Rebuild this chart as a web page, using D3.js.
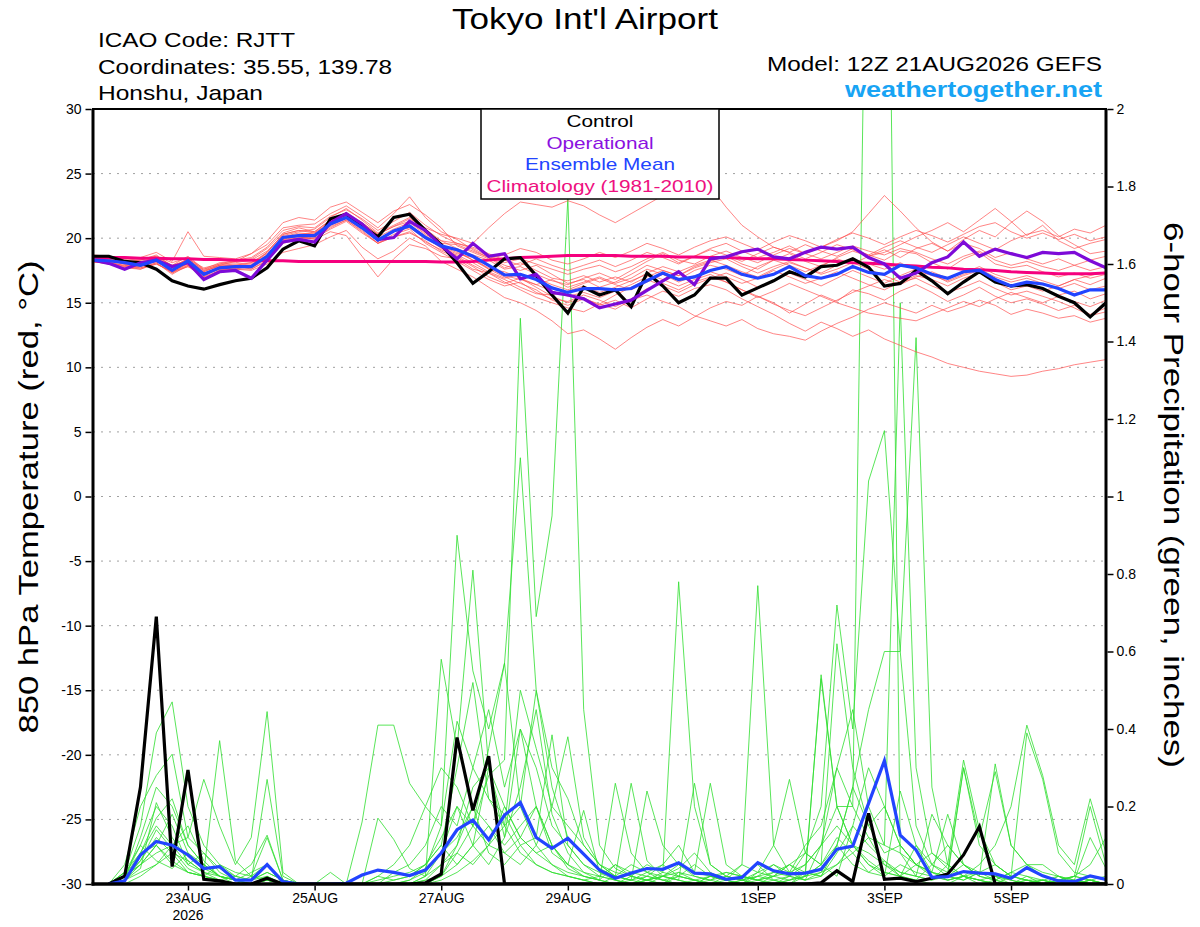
<!DOCTYPE html>
<html lang="en">
<head>
<meta charset="UTF-8">
<title>Tokyo Int'l Airport - GEFS 850 hPa Temperature and Precipitation</title>
<script src="https://d3js.org/d3.v7.min.js"></script>
<style>
  body { margin: 0; background: white; }
  svg { display: block; background: white; font-family: "Liberation Sans", Arial, Helvetica, sans-serif; }
</style>
</head>
<body>
<svg width="1200" height="927" id="chart"></svg>
<script>
// ---- run / axis data ----
const runStart = Date.UTC(2026, 7, 21, 12);   // 12Z 21AUG2026
const runEnd = Date.UTC(2026, 8, 6, 12);
const stepHours = 6;
const tempTicks = [-30, -25, -20, -15, -10, -5, 0, 5, 10, 15, 20, 25, 30];
const tempGrid = [-25, -20, -15, -10, -5, 0, 5, 10, 15, 20, 25];
const precipTicks = [0, 0.2, 0.4, 0.6, 0.8, 1, 1.2, 1.4, 1.6, 1.8, 2];
const dateTicks = [Date.UTC(2026, 7, 23), Date.UTC(2026, 7, 25), Date.UTC(2026, 7, 27), Date.UTC(2026, 7, 29),
                   Date.UTC(2026, 8, 1), Date.UTC(2026, 8, 3), Date.UTC(2026, 8, 5)];
const dateTickLabels = ["23AUG", "25AUG", "27AUG", "29AUG", "1SEP", "3SEP", "5SEP"];

// ---- 850 hPa temperature (deg C), every 6 h from 12Z 21AUG ----
const tempControl = [18.6,18.6,18.2,18.1,17.6,16.7,16.3,16.05,16.4,16.7,
  16.9,17.7,19.15,19.8,19.4,21.5,21.85,20.95,20.1,21.6,
  21.85,20.6,19.5,18.1,16.5,17.4,18.4,18.5,17.1,15.6,
  14.2,16.2,15.6,16.0,14.7,17.3,16.3,15.0,15.6,16.9,
  16.9,15.6,16.15,16.7,17.4,17.0,17.8,17.9,18.4,17.75,
  16.3,16.5,17.5,16.7,15.7,16.6,17.4,16.6,16.3,16.4,
  16.1,15.5,15.0,13.9,15.0];
const tempOperational = [18.3,18.05,17.6,18.1,18.3,17.8,18.1,16.8,17.4,17.5,
  16.9,18.3,19.7,19.9,19.7,21.2,21.9,21.1,19.9,20.05,
  21.3,20.6,19.4,18.4,19.6,18.6,18.8,16.85,17.2,15.8,
  15.6,15.3,14.6,14.9,15.2,15.95,16.7,17.4,16.4,18.4,
  18.55,18.95,19.15,18.55,18.4,18.9,19.3,19.15,19.3,18.5,
  18.0,16.9,17.3,18.1,18.55,19.7,18.6,19.15,18.8,18.5,
  18.9,18.8,18.9,18.25,17.7];
const tempMean = [18.3,18.25,18.1,17.9,18.3,17.5,18.25,17.2,17.7,17.8,
  17.8,18.6,20.05,20.2,20.2,21.1,21.6,20.8,19.85,20.55,
  20.95,20.05,19.4,19.1,18.6,17.9,17.15,17.2,16.8,16.15,
  15.8,16.1,16.1,16.0,16.1,16.7,17.3,16.8,17.0,17.5,
  17.8,17.2,16.9,17.2,17.8,17.1,16.9,17.2,17.8,17.35,
  17.2,17.9,17.7,17.2,16.9,17.4,17.5,16.8,16.3,16.6,
  16.45,16.1,15.6,16.0,16.0];
const tempClimatology = [18.5,18.5,18.5,18.45,18.45,18.4,18.4,18.35,18.35,18.3,
  18.3,18.25,18.25,18.2,18.2,18.2,18.2,18.2,18.2,18.2,
  18.2,18.2,18.15,18.15,18.2,18.3,18.4,18.5,18.55,18.6,
  18.65,18.65,18.65,18.65,18.6,18.6,18.6,18.55,18.55,18.5,
  18.5,18.45,18.4,18.4,18.35,18.3,18.25,18.2,18.1,18.05,
  18.0,17.9,17.85,17.75,17.7,17.6,17.55,17.5,17.4,17.35,
  17.3,17.25,17.25,17.25,17.3];

const tempMember01 = [18.4,18.3,18.0,18.2,18.5,17.9,18.6,17.6,17.9,18.2, 18.4,19.2,20.4,20.8,20.5,21.4,22.0,21.2,20.3,20.9, 21.5,20.8,20.3,20.0,19.6,20.8,21.9,22.8,22.6,22.4, 22.9,22.5,21.8,21.2,21.9,22.6,23.3,23.9,24.4,24.0, 22.4,21.0,20.1,19.3,18.9,19.5,19.0,18.6,19.2,18.7, 18.3,19.0,18.8,18.1,17.6,18.4,18.9,18.0,17.7,17.9, 17.4,17.0,17.3,16.9,17.2];
const tempMember02 = [18.2,18.0,17.9,17.7,18.1,17.2,17.9,16.9,17.5,17.6, 17.5,18.0,18.9,19.2,19.5,20.1,20.6,19.3,18.4,19.0, 20.0,19.4,18.2,17.6,17.0,16.2,15.4,15.0,14.4,13.6, 12.6,12.9,12.2,11.4,12.3,13.1,13.7,13.2,13.9,14.6, 15.1,14.8,15.5,15.0,14.2,14.9,15.6,15.1,16.0,15.7, 15.2,15.9,16.4,15.8,15.1,15.6,16.2,15.5,15.0,15.3, 14.9,14.4,14.8,14.1,14.6];
const tempMember03 = [18.5,18.4,18.0,18.0,18.4,17.6,18.3,17.0,17.8,17.9, 17.6,18.2,19.6,19.9,20.0,20.7,21.3,20.4,19.6,20.1, 20.4,19.8,19.0,18.5,17.8,17.0,16.5,16.9,16.2,15.5, 15.0,15.4,14.8,15.2,14.6,15.3,15.9,15.5,16.1,16.4, 16.0,15.3,14.7,14.1,13.4,12.8,13.5,13.0,12.4,12.9, 12.2,11.7,11.2,10.8,10.3,10.0,9.7,9.5,9.3,9.4, 9.7,9.9,10.2,10.4,10.6];
const tempMember04 = [18.6,18.5,18.3,18.4,18.6,18.1,18.5,17.5,18.0,18.1, 18.3,19.0,20.2,20.5,20.7,21.6,22.3,21.4,20.4,21.0, 21.6,20.7,19.8,19.2,18.7,18.3,17.6,17.8,17.2,16.7, 16.4,16.9,17.3,16.8,17.5,18.2,18.8,18.1,18.6,19.2, 19.6,19.0,18.5,18.9,19.4,18.8,19.3,19.8,20.5,21.9, 23.3,22.1,20.8,19.7,19.0,19.6,19.2,18.5,18.9,18.4, 18.0,18.4,17.9,17.5,17.8];
const tempMember05 = [18.3,18.2,17.8,17.6,18.0,17.4,17.8,17.3,17.6,17.6, 17.9,18.9,20.3,20.6,20.4,21.3,21.8,21.0,20.1,20.7, 21.2,20.3,19.6,19.5,19.0,18.5,17.9,17.5,17.9,17.2, 16.5,16.8,16.2,16.6,17.2,17.9,17.5,17.1,17.8,18.2, 18.6,18.0,17.6,18.3,18.8,18.2,17.8,18.5,19.0,18.6, 18.9,19.5,20.1,20.6,21.2,20.5,21.4,22.3,21.3,20.2, 21.0,19.8,19.2,19.6,19.9];
const tempMember06 = [18.1,18.2,17.6,17.9,18.2,17.5,18.0,17.4,17.9,17.9, 18.1,18.8,20.0,20.3,20.4,21.2,21.7,20.9,19.7,20.6, 21.0,20.1,19.2,18.8,18.5,17.6,17.4,16.9,16.4,16.8, 16.2,16.6,17.0,16.5,16.9,17.6,17.2,16.8,17.5,17.9, 17.6,17.1,17.8,18.3,17.9,17.4,17.9,18.4,18.0,18.6, 19.1,18.5,19.2,19.6,19.0,19.9,20.6,20.1,21.2,22.1, 21.3,20.2,19.5,18.8,19.0];
const tempMember07 = [18.4,18.3,18.2,17.8,18.3,17.3,18.1,17.1,17.6,17.7, 17.7,18.4,19.9,20.1,19.9,20.5,20.2,18.6,17.0,18.4, 19.5,19.2,18.6,18.4,17.6,17.3,16.6,16.0,15.4,15.0, 14.6,14.3,14.9,14.5,15.2,15.6,15.1,14.7,14.0,13.6, 13.2,13.7,13.0,12.6,12.4,12.1,12.8,13.4,13.9,14.5, 15.0,14.6,14.2,14.8,14.3,14.7,15.2,14.8,14.1,14.5, 14.2,13.8,14.0,13.5,13.8];
const tempMember08 = [18.5,18.4,18.2,18.1,18.5,17.7,18.4,17.4,17.9,18.0, 18.1,18.9,20.3,20.6,20.5,21.4,21.9,21.2,20.3,20.9, 21.3,20.4,19.8,19.6,19.2,18.6,18.1,18.4,18.0,17.6, 17.2,17.6,17.9,17.4,17.8,18.4,18.9,18.3,18.0,18.6, 19.0,18.5,18.1,18.7,19.2,18.8,18.4,18.9,19.4,19.0, 18.7,19.2,18.9,18.4,18.0,18.6,19.0,18.3,17.9,18.2, 17.8,17.5,17.9,18.3,18.6];
const tempMember09 = [18.2,18.1,17.9,17.8,18.2,17.5,18.1,17.2,17.7,17.8, 17.9,18.6,19.9,20.0,20.1,20.9,21.4,20.6,19.6,20.3, 20.7,19.6,18.9,18.2,17.5,16.8,16.3,16.6,15.8,15.3, 15.1,15.6,15.2,14.7,15.3,16.1,16.5,16.0,16.6,17.0, 16.6,16.0,15.4,15.9,16.5,16.0,15.5,15.0,14.6,14.2, 14.0,13.8,13.6,14.1,14.6,15.1,14.7,15.3,15.8,15.4, 15.0,15.5,15.1,14.7,15.2];
const tempMember10 = [18.7,18.6,18.4,18.5,18.9,18.2,20.5,18.6,18.5,18.4, 18.8,19.5,20.8,21.0,21.1,21.9,22.5,21.7,20.8,21.9, 23.2,21.6,20.5,19.9,19.1,18.5,17.7,18.1,17.5,16.9, 16.7,17.1,16.6,17.0,16.6,17.3,17.8,17.4,17.9,18.3, 17.9,17.4,17.0,17.6,18.1,17.7,17.3,17.9,18.3,18.0, 17.6,18.1,17.5,17.1,16.7,17.2,17.6,17.0,16.6,16.9, 16.5,16.1,16.5,16.0,16.3];
const tempMember11 = [18.3,18.3,18.1,18.0,18.3,17.6,18.2,17.5,17.8,17.9, 18.0,18.7,20.0,20.2,20.1,21.0,21.5,20.7,19.9,20.5, 20.9,20.0,19.3,18.9,18.3,17.6,17.0,16.5,16.0,15.2, 14.8,15.3,14.9,15.6,16.2,16.8,16.3,15.8,16.4,16.9, 17.3,16.8,16.2,16.7,17.3,16.8,16.3,16.9,17.5,17.0, 16.5,17.1,17.6,17.2,16.6,17.1,17.5,16.9,16.2,16.6, 16.1,15.6,15.9,15.3,15.7];
const tempMember12 = [18.5,18.5,18.2,18.3,18.6,17.9,18.3,17.6,18.1,18.2, 18.8,19.8,21.2,21.6,21.4,22.4,22.8,22.0,21.2,22.1, 22.6,21.8,20.8,19.4,18.9,18.4,18.7,19.2,18.9,18.3, 18.0,18.4,18.9,18.5,19.0,19.6,19.2,18.7,19.3,19.8, 20.1,19.6,19.1,19.7,20.2,19.8,19.3,19.9,20.4,20.0, 19.5,20.1,20.6,20.2,19.7,20.3,20.9,21.2,20.5,20.0, 20.4,19.9,20.3,19.8,20.1];
const tempMember13 = [18.4,18.2,18.0,17.9,18.4,17.5,18.0,17.3,17.7,17.8, 17.8,18.5,19.8,20.0,20.2,21.1,21.6,20.8,19.8,20.6, 21.0,20.2,19.4,19.0,18.3,17.7,17.1,16.8,16.4,15.9, 15.5,15.8,15.4,15.9,16.4,17.0,17.5,17.1,17.7,18.1, 18.4,17.8,17.3,17.8,18.2,17.7,17.2,17.6,18.1,17.6, 17.1,16.6,16.9,16.3,15.8,16.2,16.7,16.1,15.6,15.9, 15.5,15.1,14.6,14.0,14.3];
const tempMember14 = [18.3,18.1,17.7,17.6,18.1,17.3,17.8,17.0,17.5,17.6, 17.6,18.3,19.7,20.0,20.0,20.8,21.4,20.5,19.6,20.1, 20.5,19.7,19.1,18.7,18.1,17.4,16.9,17.2,16.9,16.4, 16.0,16.5,16.9,16.4,16.0,16.6,17.2,16.6,17.1,17.4, 17.0,16.5,16.9,17.5,17.0,16.5,16.9,17.4,16.9,16.4, 16.0,16.6,17.1,16.8,16.3,16.9,17.3,16.6,16.0,16.3, 15.9,16.3,16.8,17.1,17.4];
const tempMember15 = [18.6,18.4,18.1,18.3,18.7,17.8,18.4,17.7,18.0,18.3, 18.5,19.3,20.6,20.9,20.8,21.7,22.2,21.5,20.6,21.3, 22.0,21.0,20.2,19.6,19.3,18.8,18.3,17.9,18.4,17.9, 17.5,17.9,18.3,17.8,18.3,18.9,18.5,18.0,18.6,19.1, 18.7,18.2,18.8,19.3,18.9,18.4,18.9,19.5,19.1,18.7, 19.3,19.8,19.3,18.9,19.5,20.1,19.6,19.1,19.8,20.3, 20.6,20.1,20.7,20.4,21.0];
const tempMember16 = [18.2,18.0,17.8,17.7,18.0,17.4,17.9,17.2,17.6,17.7, 17.9,18.6,20.1,20.4,20.3,21.1,21.8,20.9,19.9,20.5, 20.8,20.0,19.3,18.6,17.9,17.3,16.8,16.2,15.7,15.6, 15.9,16.3,15.8,16.2,16.7,17.2,16.8,16.3,16.8,17.2, 16.6,16.0,15.5,14.9,14.4,14.0,14.6,15.2,15.8,16.3, 16.8,16.4,17.0,17.4,16.9,17.3,17.8,17.2,16.8,17.1, 16.7,16.3,16.8,16.4,16.9];

// ---- 6-hour precipitation (inches), every 6 h from 18Z 21AUG ----
const precipControl = [0,0.02,0.25,0.69,0.045,0.294,0.012,0.008,0, 0,0.015,0,0,0,0,0,0,0,0, 0,0.003,0.026,0.378,0.19,0.33,0,0,0,0, 0,0,0,0,0,0,0,0,0,0, 0,0,0,0,0,0,0.003,0.034,0.006,0.182, 0.012,0.015,0.006,0.015,0.026,0.075,0.148,0,0,0, 0,0,0,0,0];
const precipMean = [0,0.008,0.075,0.11,0.10,0.075,0.04,0.045,0.01, 0.01,0.05,0.006,0,0,0,0.002,0.023,0.036,0.03, 0.022,0.036,0.08,0.14,0.165,0.114,0.178,0.21,0.12,0.092, 0.118,0.077,0.036,0.015,0.028,0.04,0.038,0.055,0.028,0.026, 0.012,0.017,0.055,0.034,0.026,0.028,0.038,0.09,0.098,0.208, 0.318,0.126,0.088,0.017,0.019,0.032,0.028,0.026,0.015,0.042, 0.021,0.008,0.006,0.021,0.012];

const precipMember01 = [0,0.01,0.06,0.12,0.08,0.03,0.02,0.01,0, 0.02,0.05,0,0,0,0,0,0,0.01,0.02, 0.03,0.05,0.12,0.2,0.15,0.28,0.32,1.46,0.69,0.95, 1.77,0.45,0.1,0.04,0.02,0.01,0,0.03,0.01,0, 0,0.01,0.02,0.01,0,0.02,0.05,0.12,0.08,0.03, 0.06,0.02,0.01,0,0,0.02,0.01,0,0,0.01, 0,0,0.01,0,0];
const precipMember02 = [0,0.02,0.1,0.2,0.15,0.05,0.08,0.03,0.01, 0,0.01,0,0,0,0,0,0,0,0, 0.01,0.04,0.15,0.9,0.55,0.4,0.57,1.1,0.5,0.3, 0.22,0.1,0.05,0.02,0.26,0.06,0.02,0.01,0,0.02, 0.01,0,0.03,0.05,0.02,0.08,0.2,0.72,0.4,1.04, 1.17,0.6,0.15,0.05,0.02,0.01,0.03,0.02,0,0, 0.01,0,0,0.02,0.01];
const precipMember03 = [0,0.03,0.15,0.39,0.47,0.2,0.1,0.05,0.02, 0.01,0.03,0.01,0,0,0,0,0,0,0, 0,0.02,0.58,0.35,0.81,0.3,0.12,0.4,0.2,0.08, 0.05,0.19,0.03,0.01,0,0.02,0.05,0.1,0.03,0.26, 0.05,0.02,0.01,0,0.02,0.01,0.1,0.2,0.2,3.0, 3.5,0.08,0.02,0.01,0.05,0.02,0,0.01,0.03,0.02, 0,0.01,0,0,0];
const precipMember04 = [0,0.05,0.2,0.28,0.335,0.12,0.27,0.15,0.05, 0.12,0.445,0.03,0,0,0,0,0,0.02,0.01, 0.02,0.05,0.1,0.3,0.52,0.22,0.15,0.5,0.35,0.2, 0.38,0.12,0.05,0.02,0.01,0.24,0.1,0.05,0.02,0.01, 0.03,0.02,0.05,0.01,0,0.03,0.53,0.2,0.1,0.05, 0.02,0.24,0.1,0.03,0.18,0.05,0.02,0.01,0,0.02, 0.01,0,0.02,0.2,0.05];
const precipMember05 = [0,0.02,0.08,0.15,0.1,0.05,0.03,0.37,0.06, 0.02,0.12,0.01,0,0,0,0,0.16,0.41,0.41, 0.26,0.2,0.15,0.42,0.3,0.22,0.18,0.1,0.12,0.385, 0.1,0.05,0.02,0.01,0,0.01,0.03,0.78,0.2,0.05, 0.02,0.01,0,0.01,0.02,0.05,0.1,0.3,0.45,0.2, 0.1,1.5,0.3,0.08,0.05,0.02,0.01,0,0,0, 0.01,0,0,0.01,0];
const precipMember06 = [0,0.01,0.05,0.1,0.18,0.08,0.04,0.02,0.01, 0.01,0.27,0.02,0,0,0,0,0,0.17,0.115, 0.04,0.02,0.08,0.2,0.1,0.05,0.12,0.25,0.45,0.18, 0.08,0.03,0.01,0.05,0.02,0.01,0.02,0.05,0.03,0.02, 0.01,0.05,0.77,0.1,0.03,0.01,0.03,0.1,0.25,0.45, 0.6,0.6,1.41,0.25,0.05,0.32,0.14,0.05,0.02,0.01, 0,0.02,0.01,0,0];
const precipMember07 = [0,0.01,0.04,0.21,0.12,0.06,0.03,0.01,0.02, 0.05,0.126,0.01,0,0,0,0,0,0,0.03, 0.05,0.1,0.2,0.15,0.3,0.45,0.25,0.4,0.3,0.15, 0.1,0.05,0.03,0.02,0.01,0.03,0.05,0.02,0.01,0, 0.02,0.05,0.03,0.1,0.27,0.08,0.05,0.62,0.3,0.15, 0.2,0.1,0.05,0.08,0.04,0.02,0.05,0.1,0.2,0.41, 0.28,0.1,0.05,0.22,0.08];
const precipMember08 = [0,0.03,0.1,0.06,0.04,0.08,0.05,0.02,0.01, 0,0.02,0,0,0,0.03,0,0,0,0, 0,0.01,0.05,0.1,0.25,0.3,0.15,0.2,0.5,0.25, 0.12,0.08,0.04,0.02,0.01,0,0.02,0.04,0.08,0.03, 0.01,0,0.02,0.05,0.03,0.1,0.15,0.3,0.2,0.12, 0.05,0.02,0.1,0.05,0.03,0.3,0.12,0.29,0.1,0.05, 0.03,0.02,0.01,0.12,0.04];
const precipMember09 = [0,0,0.02,0.05,0.1,0.15,0.06,0.02,0, 0,0.01,0,0,0,0,0,0,0.02,0.05, 0.1,0.2,0.3,0.25,0.15,0.35,0.57,0.2,0.1,0.05, 0.02,0.01,0,0.02,0.05,0.03,0.01,0,0,0.02, 0.01,0,0,0.02,0.05,0.02,0.54,0.2,0.1,0.06, 0.03,0.02,0.01,0.05,0.1,0.05,0.02,0.31,0.1,0.05, 0.05,0.02,0,0.01,0];
const precipMember10 = [0,0.01,0.12,0.25,0.2,0.1,0.05,0.02,0.01, 0.03,0.05,0,0,0,0,0,0,0,0, 0,0,0.02,0.08,0.15,0.1,0.2,0.12,0.08,0.1, 0.05,0.02,0.01,0.26,0.08,0.03,0.02,0.01,0.26,0.05, 0.02,0.01,0.03,0.02,0.05,0.03,0.02,0.1,0.25,0.15, 0.08,0.1,0.05,0.03,0.02,0.3,0.1,0.05,0.02,0.39, 0.27,0.08,0.03,0.02,0.01];
const precipMember11 = [0,0.02,0.05,0.08,0.1,0.12,0.08,0.04,0.02, 0.01,0.02,0,0,0,0,0,0,0,0, 0.01,0.03,0.08,0.12,0.2,0.15,0.1,0.15,0.2,0.1, 0.04,0.02,0.01,0,0.01,0.02,0.01,0,0.01,0.02, 0.03,0.02,0.01,0.02,0.03,0.05,0.1,0.15,0.1,0.08, 0.05,0.03,0.02,0.18,0.1,0.05,0.02,0.01,0.03,0.05, 0.02,0.01,0.02,0.05,0.12];
const precipMember12 = [0,0.01,0.08,0.1,0.06,0.03,0.02,0.05,0.03, 0.02,0.01,0,0,0,0,0,0,0,0, 0,0.01,0.02,0.05,0.1,0.3,0.2,0.12,0.08,0.05, 0.03,0.02,0.01,0,0.02,0.05,0.03,0.02,0.01,0, 0,0.01,0.02,0.03,0.05,0.08,0.05,0.02,0.15,0.1, 0.06,0.03,0.02,0.01,0.02,0.05,0.03,0.02,0.01,0, 0.01,0.02,0,0.01,0.02];
const precipMember13 = [0,0.02,0.06,0.14,0.09,0.04,0.02,0.01,0, 0,0,0,0,0,0,0,0,0,0, 0,0,0.01,0.03,0.06,0.1,0.08,0.05,0.1,0.2, 0.15,0.1,0.05,0.03,0.02,0.01,0,0.02,0.01,0, 0.01,0.02,0.01,0,0.01,0.02,0.03,0.05,0.08,0.12, 0.1,0.08,0.05,0.03,0.01,0.02,0.01,0,0.02,0.01, 0,0,0.01,0,0];
const precipMember14 = [0,0.03,0.08,0.17,0.22,0.1,0.05,0.02,0.01, 0.01,0.03,0.01,0,0,0,0,0,0,0, 0,0,0.02,0.1,0.2,0.08,0.05,0.1,0.05,0.03, 0.02,0.01,0,0,0,0.01,0.02,0.01,0,0.01, 0.02,0.01,0,0,0.01,0.02,0.05,0.1,0.05,0.03, 0.02,0.05,0.03,0.02,0.01,0.02,0.03,0.01,0,0.01, 0.01,0,0,0.01,0];
const precipMember15 = [0,0.01,0.03,0.05,0.08,0.06,0.03,0.02,0.01, 0,0.01,0,0,0,0,0,0,0,0.01, 0.02,0.05,0.1,0.05,0.1,0.15,0.08,0.12,0.2,0.1, 0.05,0.03,0.02,0.01,0,0.01,0.02,0.03,0.02,0.01, 0,0,0.01,0.02,0.01,0.03,0.02,0.05,0.1,0.05, 0.03,0.02,0.05,0.02,0.01,0.02,0.01,0.02,0.01,0, 0,0.01,0.02,0.01,0];
const precipMember16 = [0,0.02,0.05,0.1,0.05,0.03,0.02,0.01,0, 0,0.01,0,0,0,0,0,0,0,0, 0,0.02,0.05,0.08,0.05,0.1,0.15,0.08,0.05,0.03, 0.02,0.01,0.02,0.05,0.03,0.02,0.01,0.02,0.05,0.02, 0.01,0.02,0.01,0.03,0.02,0.01,0.02,0.08,0.15,0.3, 0.2,0.1,0.05,0.03,0.02,0.01,0.03,0.05,0.02,0.01, 0,0.01,0.02,0.01,0];

const tempMembers = [tempMember01, tempMember02, tempMember03, tempMember04, tempMember05, tempMember06,
  tempMember07, tempMember08, tempMember09, tempMember10, tempMember11, tempMember12,
  tempMember13, tempMember14, tempMember15, tempMember16];
const precipMembers = [precipMember01, precipMember02, precipMember03, precipMember04, precipMember05, precipMember06,
  precipMember07, precipMember08, precipMember09, precipMember10, precipMember11, precipMember12,
  precipMember13, precipMember14, precipMember15, precipMember16];

// ---- layout ----
const plot = { left: 93, right: 1106, top: 109, bottom: 884 };
const svg = d3.select("#chart");

const x = d3.scaleUtc().domain([runStart, runEnd]).range([plot.left, plot.right]);
const yT = d3.scaleLinear().domain([-30, 30]).range([plot.bottom, plot.top]);
const yP = d3.scaleLinear().domain([0, 2]).range([plot.bottom, plot.top]);

// temperature starts at hour 0, precipitation at hour 6
const tTime = i => runStart + i * stepHours * 3600e3;
const pTime = i => runStart + (i + 1) * stepHours * 3600e3;

const tempLine = d3.line().x((d, i) => x(tTime(i))).y(d => yT(d));
const precipLine = d3.line().x((d, i) => x(pTime(i))).y(d => yP(d));

svg.append("defs").append("clipPath").attr("id", "plotClip")
  .append("rect")
  .attr("x", plot.left).attr("y", plot.top)
  .attr("width", plot.right - plot.left).attr("height", plot.bottom - plot.top);

// dotted grid lines at the temperature ticks
svg.append("g").selectAll("line").data(tempGrid).join("line")
  .attr("x1", plot.left).attr("x2", plot.right)
  .attr("y1", d => yT(d)).attr("y2", d => yT(d))
  .attr("stroke", "#a0a0a0").attr("stroke-width", 1)
  .attr("stroke-dasharray", "2,6");

const lines = svg.append("g").attr("clip-path", "url(#plotClip)");

// ensemble members
lines.append("g").selectAll("path").data(precipMembers).join("path")
  .attr("d", precipLine)
  .attr("fill", "none").attr("stroke", "#2ede2e").attr("stroke-width", 0.8);

lines.append("g").selectAll("path").data(tempMembers).join("path")
  .attr("d", tempLine)
  .attr("fill", "none").attr("stroke", "#ff4a4a").attr("stroke-width", 0.8).attr("stroke-opacity", 0.85);

// climatology
lines.append("path").attr("d", tempLine(tempClimatology))
  .attr("fill", "none").attr("stroke", "#f5007e").attr("stroke-width", 3);

// control, operational, mean
lines.append("path").attr("d", precipLine(precipControl))
  .attr("fill", "none").attr("stroke", "black").attr("stroke-width", 3.2);
lines.append("path").attr("d", tempLine(tempControl))
  .attr("fill", "none").attr("stroke", "black").attr("stroke-width", 3.2);
lines.append("path").attr("d", tempLine(tempOperational))
  .attr("fill", "none").attr("stroke", "#7d0ad8").attr("stroke-width", 3.2);
lines.append("path").attr("d", precipLine(precipMean))
  .attr("fill", "none").attr("stroke", "#2244ff").attr("stroke-width", 3.2);
lines.append("path").attr("d", tempLine(tempMean))
  .attr("fill", "none").attr("stroke", "#2244ff").attr("stroke-width", 3.2);

// frame
svg.append("rect")
  .attr("x", plot.left).attr("y", plot.top)
  .attr("width", plot.right - plot.left).attr("height", plot.bottom - plot.top)
  .attr("fill", "none").attr("stroke", "black").attr("stroke-width", 2);
svg.append("line").attr("x1", plot.left).attr("x2", plot.left).attr("y1", plot.top).attr("y2", plot.bottom + 1.5)
  .attr("stroke", "black").attr("stroke-width", 3);
svg.append("line").attr("x1", plot.right).attr("x2", plot.right).attr("y1", plot.top).attr("y2", plot.bottom + 1.5)
  .attr("stroke", "black").attr("stroke-width", 3);
svg.append("line").attr("x1", plot.left - 1.5).attr("x2", plot.right + 1.5).attr("y1", plot.bottom).attr("y2", plot.bottom)
  .attr("stroke", "black").attr("stroke-width", 3.5);

// axes
const leftAxis = svg.append("g").attr("transform", `translate(${plot.left - 1.5},0)`)
  .call(d3.axisLeft(yT).tickValues(tempTicks).tickSize(6).tickPadding(4).tickFormat(d => String(d)));
const rightAxis = svg.append("g").attr("transform", `translate(${plot.right + 1.5},0)`)
  .call(d3.axisRight(yP).tickValues(precipTicks).tickSize(6).tickPadding(3).tickFormat(d => String(+d.toFixed(1))));
const bottomAxis = svg.append("g").attr("transform", `translate(0,${plot.bottom + 1.5})`)
  .call(d3.axisBottom(x).tickValues(dateTicks).tickSize(5).tickPadding(3)
    .tickFormat((d, i) => dateTickLabels[i]));

[leftAxis, rightAxis, bottomAxis].forEach(g => {
  g.select(".domain").remove();
  g.selectAll(".tick line").attr("stroke", "black").attr("stroke-width", 1.5);
  g.selectAll("text").attr("font-size", 14).attr("fill", "black")
    .attr("font-family", "\"Liberation Sans\", Arial, sans-serif");
});
// year under the first date
svg.append("text").attr("x", x(dateTicks[0])).attr("y", plot.bottom + 36)
  .attr("text-anchor", "middle").attr("font-size", 14).text("2026");

// legend box
const legendLabels = ["Control", "Operational", "Ensemble Mean", "Climatology (1981-2010)"];
const legendColors = ["black", "#8a10e0", "#2244ff", "#ee1080"];
const legendWidths = [67, 107, 150, 227];
svg.append("rect").attr("x", 481).attr("y", plot.top).attr("width", 238).attr("height", 90)
  .attr("fill", "white").attr("stroke", "black").attr("stroke-width", 1.5);
svg.append("g").selectAll("text").data(legendLabels).join("text")
  .attr("x", 600).attr("y", (d, i) => 127 + i * 21.7)
  .attr("text-anchor", "middle").attr("font-size", 17)
  .attr("fill", (d, i) => legendColors[i])
  .attr("textLength", (d, i) => legendWidths[i]).attr("lengthAdjust", "spacingAndGlyphs")
  .text(d => d);

// header texts
svg.append("text").attr("x", 585).attr("y", 29).attr("text-anchor", "middle")
  .attr("font-size", 29).attr("textLength", 266).attr("lengthAdjust", "spacingAndGlyphs")
  .text("Tokyo Int'l Airport");
const infoLines = ["ICAO Code: RJTT", "Coordinates: 35.55, 139.78", "Honshu, Japan"];
const infoWidths = [197, 294, 165];
svg.append("g").selectAll("text").data(infoLines).join("text")
  .attr("x", 98).attr("y", (d, i) => 47 + i * 26.5)
  .attr("font-size", 21)
  .attr("textLength", (d, i) => infoWidths[i]).attr("lengthAdjust", "spacingAndGlyphs")
  .text(d => d);
svg.append("text").attr("x", 1102).attr("y", 71).attr("text-anchor", "end")
  .attr("font-size", 21).attr("textLength", 335).attr("lengthAdjust", "spacingAndGlyphs")
  .text("Model: 12Z 21AUG2026 GEFS");
svg.append("text").attr("x", 1102).attr("y", 97).attr("text-anchor", "end")
  .attr("font-size", 22).attr("font-weight", "bold").attr("fill", "#18a4f4")
  .attr("textLength", 257).attr("lengthAdjust", "spacingAndGlyphs")
  .text("weathertogether.net");

// axis titles
svg.append("text")
  .attr("transform", "translate(38,497) rotate(-90)")
  .attr("text-anchor", "middle").attr("font-size", 28)
  .attr("textLength", 473).attr("lengthAdjust", "spacingAndGlyphs")
  .text("850 hPa Temperature (red, °C)");
svg.append("text")
  .attr("transform", "translate(1164,495) rotate(90)")
  .attr("text-anchor", "middle").attr("font-size", 28)
  .attr("textLength", 546).attr("lengthAdjust", "spacingAndGlyphs")
  .text("6-hour Precipitation (green, inches)");
</script>
</body>
</html>
